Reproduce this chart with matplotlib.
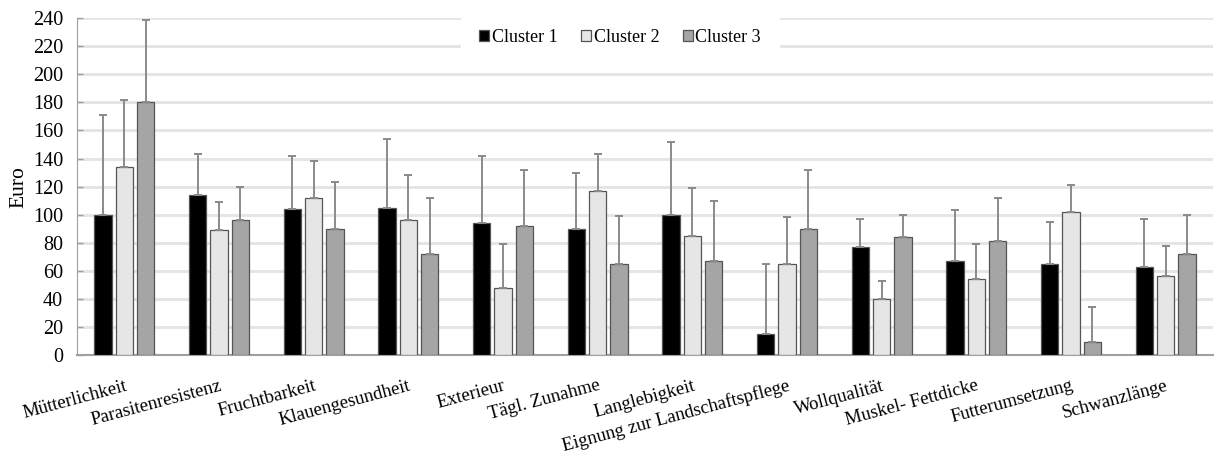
import matplotlib
matplotlib.use("Agg")
import matplotlib.pyplot as plt
import numpy as np

plt.rcParams['font.family'] = ['Liberation Serif', 'DejaVu Serif']

categories = ["Mütterlichkeit", "Parasitenresistenz", "Fruchtbarkeit", "Klauengesundheit",
              "Exterieur", "Tägl. Zunahme", "Langlebigkeit", "Eignung zur Landschaftspflege",
              "Wollqualität", "Muskel- Fettdicke", "Futterumsetzung", "Schwanzlänge"]
series_names = ["Cluster 1", "Cluster 2", "Cluster 3"]

cluster1 = [100, 114, 104, 105, 94, 90, 100, 15, 77, 67, 65, 63]
cluster1_err = [71, 29, 38, 49, 48, 40, 52, 50, 20, 36, 30, 34]
cluster2 = [134, 89, 112, 96, 48, 117, 85, 65, 40, 54, 102, 56]
cluster2_err = [48, 20, 26, 32, 31, 26, 34, 33, 13, 25, 19, 22]
cluster3 = [180, 96, 90, 72, 92, 65, 67, 90, 84, 81, 9, 72]
cluster3_err = [59, 24, 33, 40, 40, 34, 43, 42, 16, 31, 25, 28]

yticks = list(range(0, 241, 20))

colors = ["#000000", "#e6e6e6", "#a5a5a5"]

fig = plt.figure(figsize=(12.17, 4.54), dpi=100)
ax = fig.add_axes([0.0633, 0.218, 0.9334, 0.742])

x = np.arange(len(categories))
width = 0.185
offsets = [-0.225, 0.0, 0.225]
data = [(cluster1, cluster1_err), (cluster2, cluster2_err), (cluster3, cluster3_err)]
for i, ((vals, errs), name) in enumerate(zip(data, series_names)):
    ax.bar(x + offsets[i], vals, width, color=colors[i], edgecolor="#555555",
           linewidth=0.9, label=name, zorder=3,
           yerr=[np.zeros(len(errs)), errs],
           error_kw=dict(ecolor="#8a8a8a", elinewidth=1.4, capsize=3, capthick=1.4, zorder=4))

ax.set_ylim(0, 240)
ax.set_xlim(-0.5, len(categories) - 0.5)
ax.set_yticks(yticks)
ax.tick_params(axis='y', labelsize=14.5, length=4, direction='in', color="#a0a0a0",
               width=1, pad=10)
ax.yaxis.grid(True, color="#e4e4e4", linewidth=2.0, zorder=0)
ax.set_axisbelow(True)
for side in ["top", "right"]:
    ax.spines[side].set_visible(False)
ax.spines["left"].set_color("#a0a0a0")
ax.spines["bottom"].set_color("#a0a0a0")
ax.spines["bottom"].set_linewidth(1.5)

ax.set_xticks(x)
ax.set_xticklabels(categories, rotation=15, ha="right", va="top",
                   rotation_mode="anchor", fontsize=13.5)
ax.tick_params(axis='x', length=0, pad=16)
ax.set_ylabel("Euro", fontsize=15.5)
ax.yaxis.set_label_coords(-0.043, 0.5)

leg = ax.legend(loc="center", bbox_to_anchor=(0.478, 0.944), ncol=3, frameon=True,
                fontsize=13, handlelength=0.55, handleheight=0.55, handletextpad=0.15,
                columnspacing=1.3, borderpad=1.0)
leg.get_frame().set_facecolor("white")
leg.get_frame().set_edgecolor("white")
leg.get_frame().set_alpha(1)
leg.set_zorder(5)

fig.savefig("out.png", dpi=100)
